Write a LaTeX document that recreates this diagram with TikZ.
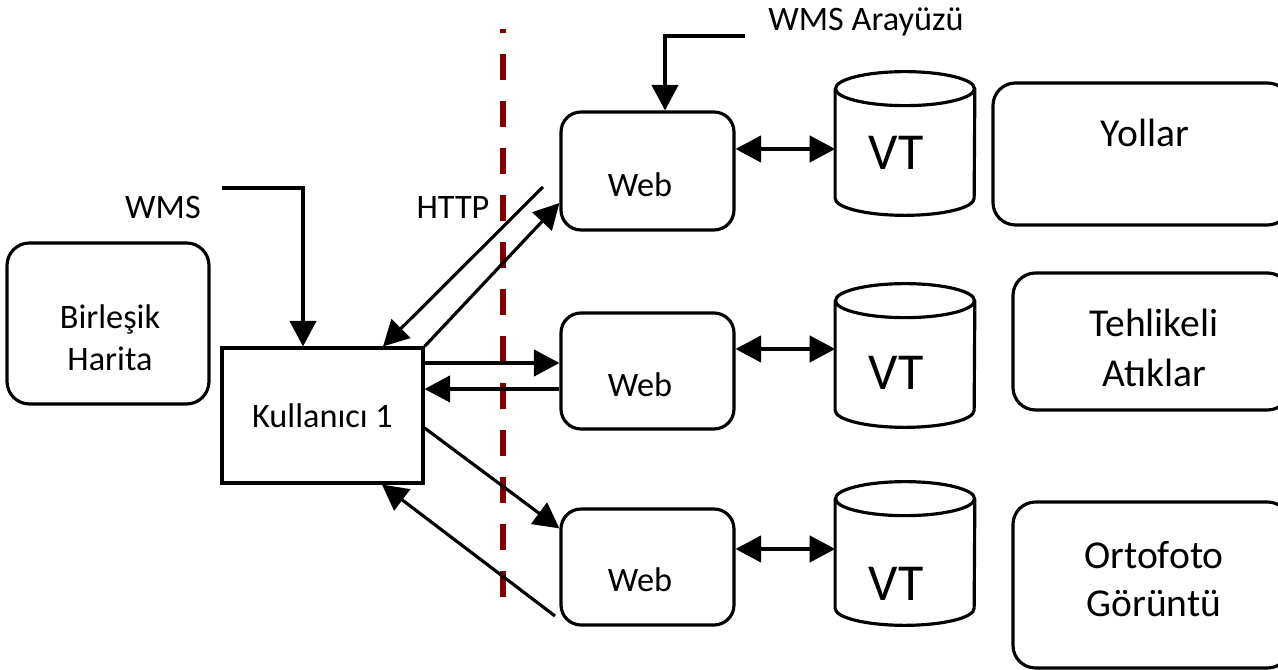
\documentclass[tikz,border=0pt]{standalone}
\usepackage{fontspec}
\setmainfont{Carlito}
\usetikzlibrary{arrows.meta,calc,positioning}
\definecolor{sinir}{RGB}{128,0,0}

\tikzset{
    kalin/.style={line width=1.8pt},
    ok/.style={kalin,-{Triangle[length=14.5pt,width=15pt]}},
    ciftok/.style={kalin,{Triangle[length=14.5pt,width=15pt]}-{Triangle[length=14.5pt,width=15pt]}},
    yuvarlak/.style={draw,kalin,rounded corners=0.45cm,inner sep=0pt},
    yazi/.style={font=\fontsize{19.5}{24}\selectfont,align=center,inner sep=0pt},
    buyukyazi/.style={font=\fontsize{22.5}{28}\selectfont,align=center,inner sep=0pt},
    vt/.style={font=\fontsize{29.5}{34}\selectfont,inner sep=0pt}
}

\begin{document}
\begin{tikzpicture}
    \useasboundingbox (0,0) rectangle (25.56,13.4);

    % sol taraf
    \node[yuvarlak,minimum width=4.04cm,minimum height=3.22cm] (harita) at (2.16,6.93) {};
    \node[yazi] (haritayazi) at (2.2,6.65) {Birleşik\\Harita};
    \node[draw,kalin,minimum width=4.02cm,minimum height=2.7cm,font=\fontsize{19.5}{24}\selectfont] (kullanici) at (6.45,5.09) {Kullanıcı 1};

    \node[yazi] (wms) at (3.26,9.24) {WMS};
    \coordinate (wmsuc) at (4.44,9.64);
    \draw[ok] (wmsuc) -| ([xshift=-0.39cm]kullanici.north);

    \node[yazi] (http) at (9.06,9.24) {HTTP};

    % sinir cizgisi
    \draw[sinir,line width=2.9pt,dash pattern=on 0.52cm off 0.42cm] (10.06,1.46) -- (10.06,12.82);

    % web sunuculari
    \node[yuvarlak,rounded corners=0.4cm,minimum width=3.46cm,minimum height=2.36cm] (web1) at (12.95,9.98) {};
    \node[yuvarlak,rounded corners=0.4cm,minimum width=3.46cm,minimum height=2.32cm] (web2) at (12.95,5.98) {};
    \node[yuvarlak,rounded corners=0.4cm,minimum width=3.46cm,minimum height=2.32cm] (web3) at (12.95,2.06) {};
    \node[yazi] (webyazi1) at (12.8,9.7) {Web};
    \node[yazi] (webyazi2) at (12.8,5.7) {Web};
    \node[yazi] (webyazi3) at (12.8,1.8) {Web};

    \node[yazi] (arayuz) at (17.32,12.96) {WMS Arayüzü};
    \coordinate (arayuzuc) at (14.9,12.68);
    \draw[ok] (arayuzuc) -| ([xshift=0.35cm]web1.north);

    % veri tabanlari
    \foreach \i/\y/\t in {1/10.53/10.34,2/6.29/5.94,3/2.33/1.72} {
        \node[minimum width=2.78cm,minimum height=2.86cm,inner sep=0pt] (cyl\i) at (18.1,\y) {};
        \draw[kalin] ($(cyl\i.north west)+(0,-0.34)$) -- ($(cyl\i.south west)+(0,0.34)$)
            arc[start angle=180,end angle=360,x radius=1.39cm,y radius=0.34cm]
            -- ($(cyl\i.north east)+(0,-0.34)$);
        \draw[kalin] ($(cyl\i.north)+(0,-0.34)$) ellipse [x radius=1.39cm,y radius=0.34cm];
        \node[vt] (vt\i) at (17.92,\t) {VT};
    }
    \foreach \i/\dy in {1/0.44,2/0.44,3/0.36}
        \draw[ciftok] ([yshift=\dy cm]web\i.east) -- ([yshift=\dy cm]web\i.east -| cyl\i.west);

    % katmanlar
    \node[yuvarlak,minimum width=5.94cm,minimum height=2.84cm] (yollar) at (22.83,10.32) {};
    \node[buyukyazi] (yollaryazi) at (22.9,10.74) {Yollar};
    \node[yuvarlak,minimum width=5.54cm,minimum height=2.74cm] (atik) at (23.03,6.57) {};
    \node[buyukyazi] (atikyazi) at (23.08,6.44) {Tehlikeli\\Atıklar};
    \node[yuvarlak,minimum width=5.54cm,minimum height=3.32cm] (orto) at (23.03,1.7) {};
    \node[buyukyazi,font=\fontsize{22.5}{27.2}\selectfont] (ortoyazi) at (23.08,1.82) {Ortofoto\\Görüntü};

    % istekler
    \coordinate (httpuc) at (10.86,9.66);
    \draw[ok] (httpuc) -- ([xshift=1.21cm]kullanici.north);
    \draw[ok] (kullanici.north east) -- ([yshift=-0.64cm]web1.west);
    \draw[ok] ($(kullanici.east |- web2.west)+(0,0.16)$) -- ($(web2.west)+(0,0.16)$);
    \draw[ok] ($(web2.west)+(0,-0.36)$) -- ($(kullanici.east |- web2.west)+(0,-0.36)$);
    \draw[ok] ($(kullanici.east)+(0,-0.25)$) -- ($(web3.north west)+(0,-0.42)$);
    \coordinate (donusuc) at (11.1,1.08);
    \draw[ok] (donusuc) -- ([xshift=1.19cm]kullanici.south);
\end{tikzpicture}
\end{document}
